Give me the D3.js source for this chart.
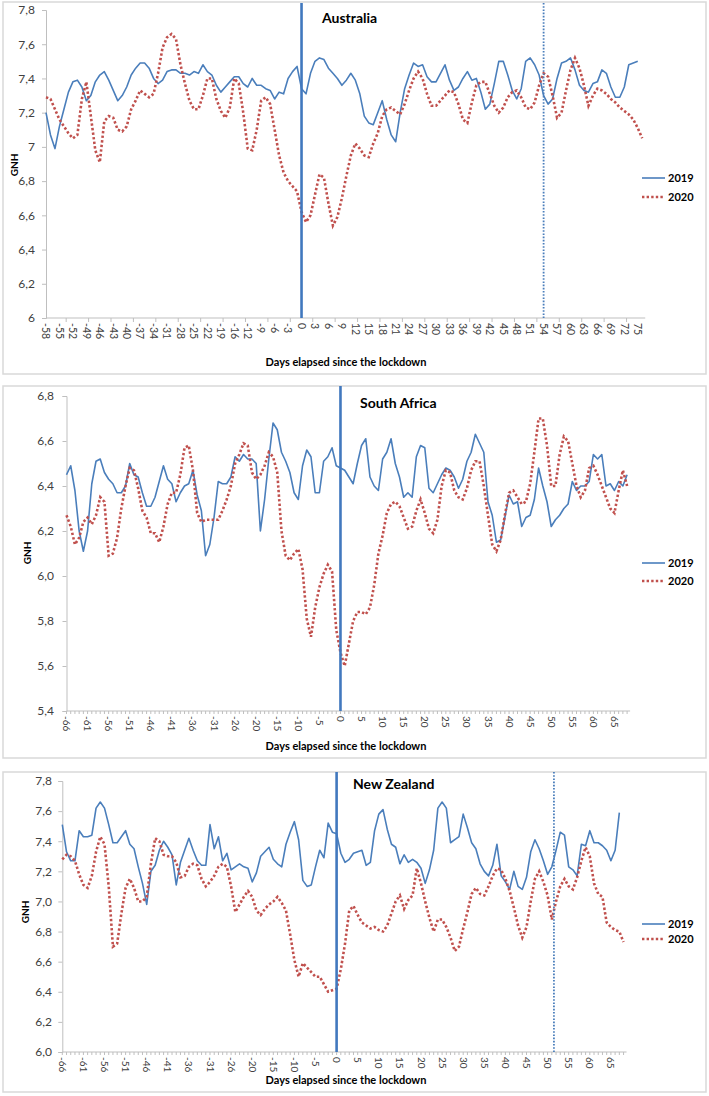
<!DOCTYPE html>
<html><head><meta charset="utf-8">
<script src="https://cdnjs.cloudflare.com/ajax/libs/d3/7.8.5/d3.min.js"></script>
<style>body{margin:0;background:#fff}svg{display:block}text{font-family:Lato,"Open Sans",sans-serif}</style>
</head><body>
<svg id="c" width="709" height="1096"></svg>
<script>
// ---------- DATA ----------
const seriesNames = ["2019", "2020"];
function dayRange(start, end, missing) { const a = []; for (let d = start; d <= end; d++) if (d !== missing) a.push(d); return a; }

// Australia
const auDays = dayRange(-58, 76, -14);
const auTickDays = [-58,-55,-52,-49,-46,-43,-40,-37,-34,-31,-28,-25,-22,-19,-16,-12,-9,-6,-3,0,3,6,9,12,15,18,21,24,27,30,33,36,39,42,45,48,51,54,57,60,63,66,69,72,75];
const au2019 = [7.20,7.07,6.99,7.12,7.22,7.32,7.38,7.39,7.35,7.27,
7.30,7.38,7.42,7.44,7.39,7.33,7.27,7.30,7.35,7.42,
7.46,7.49,7.49,7.46,7.40,7.37,7.39,7.44,7.45,7.45,
7.43,7.43,7.42,7.44,7.43,7.48,7.44,7.42,7.36,7.32,
7.35,7.38,7.41,7.41,7.37,7.35,7.40,7.36,7.36,7.34,
7.33,7.28,7.32,7.31,7.40,7.44,7.47,7.34,7.31,7.43,
7.50,7.52,7.51,7.46,7.43,7.40,7.36,7.39,7.43,7.39,
7.31,7.18,7.14,7.13,7.20,7.27,7.16,7.07,7.03,7.20,
7.34,7.42,7.49,7.47,7.48,7.41,7.38,7.38,7.43,7.48,
7.39,7.33,7.35,7.40,7.44,7.39,7.40,7.32,7.22,7.25,
7.37,7.50,7.50,7.42,7.33,7.28,7.34,7.50,7.52,7.48,
7.42,7.30,7.25,7.28,7.40,7.49,7.50,7.52,7.45,7.36,
7.33,7.32,7.37,7.38,7.45,7.43,7.35,7.29,7.29,7.35,
7.48,7.49,7.50];
const au2020 = [7.29,7.28,7.22,7.16,7.12,7.08,7.05,7.07,7.28,7.38,
7.18,6.98,6.91,7.15,7.18,7.17,7.10,7.09,7.12,7.22,
7.27,7.33,7.31,7.29,7.31,7.43,7.58,7.64,7.66,7.63,
7.48,7.37,7.27,7.22,7.22,7.30,7.40,7.40,7.28,7.21,
7.17,7.23,7.40,7.37,7.20,6.99,6.98,7.10,7.27,7.29,
7.25,7.10,6.95,6.85,6.80,6.77,6.74,6.62,6.56,6.60,
6.72,6.84,6.82,6.67,6.54,6.59,6.70,6.83,6.95,7.02,
6.99,6.95,6.94,7.02,7.08,7.18,7.22,7.23,7.21,7.19,
7.25,7.33,7.40,7.44,7.40,7.31,7.24,7.24,7.27,7.30,
7.33,7.32,7.25,7.16,7.14,7.26,7.36,7.38,7.38,7.31,
7.24,7.20,7.23,7.29,7.32,7.33,7.29,7.23,7.22,7.26,
7.36,7.43,7.41,7.30,7.17,7.20,7.33,7.45,7.52,7.46,
7.36,7.24,7.30,7.34,7.33,7.31,7.28,7.26,7.23,7.21,
7.19,7.16,7.11,7.05];
const auYTicks = [6,6.2,6.4,6.6,6.8,7,7.2,7.4,7.6,7.8];
const auYLabels = ["6","6,2","6,4","6,6","6,8","7","7,2","7,4","7,6","7,8"];
const auMarkerDays = [0, 54];

// South Africa
const saDays = dayRange(-66, 68, -23);
const saTickDays = [-66,-61,-56,-51,-46,-41,-36,-31,-26,-20,-15,-10,-5,0,5,10,15,20,25,30,35,40,45,50,55,60,65];
const sa2019 = [6.45,6.49,6.38,6.20,6.11,6.20,6.41,6.51,6.52,6.46,
6.43,6.41,6.37,6.37,6.40,6.50,6.45,6.44,6.37,6.31,
6.31,6.35,6.42,6.49,6.43,6.41,6.33,6.37,6.40,6.41,
6.47,6.36,6.29,6.09,6.14,6.26,6.42,6.41,6.41,6.44,
6.53,6.51,6.54,6.52,6.52,6.50,6.20,6.34,6.52,6.68,
6.65,6.55,6.51,6.46,6.37,6.34,6.49,6.56,6.53,6.37,
6.37,6.51,6.53,6.57,6.49,6.48,6.47,6.44,6.41,6.50,
6.58,6.61,6.44,6.40,6.38,6.52,6.55,6.61,6.50,6.44,
6.35,6.37,6.35,6.53,6.58,6.57,6.39,6.37,6.41,6.45,
6.48,6.47,6.44,6.39,6.43,6.51,6.55,6.63,6.59,6.55,
6.33,6.27,6.15,6.16,6.26,6.36,6.32,6.33,6.22,6.26,
6.27,6.34,6.48,6.40,6.33,6.22,6.25,6.27,6.30,6.32,
6.42,6.38,6.40,6.40,6.42,6.54,6.52,6.54,6.40,6.41,
6.38,6.42,6.40,6.45];
const sa2020 = [6.27,6.22,6.14,6.17,6.24,6.26,6.23,6.27,6.35,6.33,
6.09,6.10,6.17,6.30,6.40,6.48,6.47,6.39,6.29,6.26,
6.19,6.19,6.15,6.22,6.32,6.37,6.37,6.45,6.57,6.58,
6.47,6.28,6.24,6.25,6.25,6.25,6.25,6.29,6.34,6.40,
6.50,6.54,6.59,6.58,6.46,6.43,6.45,6.49,6.55,6.53,
6.46,6.20,6.09,6.07,6.10,6.12,6.03,5.81,5.73,5.86,
5.95,6.01,6.05,6.02,5.76,5.66,5.60,5.70,5.80,5.84,
5.84,5.83,5.86,5.96,6.10,6.18,6.28,6.32,6.33,6.31,
6.26,6.21,6.22,6.29,6.34,6.28,6.21,6.19,6.25,6.40,
6.47,6.46,6.38,6.35,6.34,6.39,6.47,6.51,6.51,6.40,
6.27,6.14,6.11,6.16,6.27,6.37,6.38,6.35,6.32,6.33,
6.41,6.55,6.70,6.70,6.58,6.40,6.40,6.54,6.62,6.60,
6.50,6.40,6.35,6.38,6.48,6.49,6.45,6.40,6.35,6.30,
6.28,6.38,6.47,6.40];
const saYTicks = [5.4,5.6,5.8,6.0,6.2,6.4,6.6,6.8];
const saYLabels = ["5,4","5,6","5,8","6,0","6,2","6,4","6,6","6,8"];
const saMarkerDays = [0];

// New Zealand
const nzDays = dayRange(-66, 68, -23);
const nzTickDays = [-66,-61,-56,-51,-46,-41,-36,-31,-26,-20,-15,-10,-5,0,5,10,15,20,25,30,35,40,45,50,55,60,65];
const nz2019 = [7.51,7.33,7.27,7.27,7.47,7.43,7.43,7.44,7.62,7.66,
7.62,7.51,7.39,7.39,7.43,7.47,7.38,7.35,7.23,7.12,
6.98,7.20,7.24,7.34,7.40,7.36,7.31,7.11,7.26,7.34,
7.42,7.34,7.27,7.24,7.24,7.51,7.35,7.43,7.27,7.32,
7.21,7.23,7.25,7.23,7.22,7.13,7.19,7.30,7.33,7.36,
7.28,7.25,7.23,7.38,7.46,7.53,7.41,7.14,7.10,7.11,
7.23,7.34,7.29,7.52,7.46,7.45,7.32,7.26,7.28,7.32,
7.33,7.34,7.24,7.26,7.47,7.58,7.61,7.48,7.38,7.36,
7.25,7.31,7.26,7.28,7.26,7.22,7.12,7.21,7.34,7.62,
7.66,7.62,7.39,7.41,7.43,7.58,7.49,7.39,7.35,7.25,
7.20,7.17,7.24,7.38,7.17,7.13,7.08,7.20,7.10,7.08,
7.16,7.33,7.41,7.35,7.27,7.18,7.23,7.34,7.46,7.44,
7.23,7.21,7.17,7.38,7.37,7.47,7.39,7.39,7.37,7.34,
7.27,7.34,7.59];
const nz2020 = [7.28,7.31,7.30,7.27,7.18,7.11,7.09,7.17,7.33,7.43,
7.38,7.10,6.70,6.72,6.92,7.09,7.15,7.09,7.00,7.00,
7.03,7.25,7.42,7.40,7.31,7.30,7.30,7.26,7.16,7.17,
7.23,7.25,7.24,7.15,7.10,7.13,7.17,7.23,7.25,7.23,
7.10,6.93,6.98,7.03,7.07,7.03,6.94,6.91,6.95,6.98,
7.00,7.03,6.99,6.94,6.78,6.61,6.50,6.59,6.56,6.53,
6.50,6.50,6.45,6.40,6.41,6.42,6.55,6.72,6.94,6.97,
6.91,6.86,6.84,6.82,6.83,6.81,6.80,6.84,6.92,7.00,
7.04,6.95,7.01,7.04,7.22,7.12,7.00,6.89,6.80,6.88,
6.88,6.83,6.76,6.67,6.70,6.82,6.93,7.05,7.09,7.05,
7.04,7.10,7.17,7.22,7.21,7.15,7.07,6.96,6.84,6.76,
6.83,7.00,7.15,7.20,7.13,7.04,6.88,7.00,7.10,7.15,
7.10,7.08,7.16,7.27,7.36,7.30,7.12,7.05,7.03,6.86,
6.83,6.81,6.80,6.73];
const nzYTicks = [6.0,6.2,6.4,6.6,6.8,7.0,7.2,7.4,7.6,7.8];
const nzYLabels = ["6,0","6,2","6,4","6,6","6,8","7,0","7,2","7,4","7,6","7,8"];
const nzMarkerDays = [0, 51.5];

// ---------- LAYOUT ----------
const C_BLUE = "#4A7EBB", C_RED = "#C0504D", C_AXIS = "#BFBFBF", C_TXT = "#404040";
const panels = [
  { title: "Australia", days: auDays, tickDays: auTickDays, s: [au2019, au2020], yTicks: auYTicks, yLabels: auYLabels, markers: auMarkerDays,
    box: [3, 2, 703, 372], x0: 46, step: 4.483, yTop: 10, yBot: 318, yDom: [6, 7.8], titleXY: [322, 23], gnhXY: [14, 165], xTitleY: 366,
    legX: 642, legY: [178, 197], lineTop: 3, minor: "five", xFont: 10.5, yLabX: 35 },
  { title: "South Africa", days: saDays, tickDays: saTickDays, s: [sa2019, sa2020], yTicks: saYTicks, yLabels: saYLabels, markers: saMarkerDays,
    box: [3, 386, 703, 372], x0: 66.5, step: 4.215, yTop: 396, yBot: 711, yDom: [5.4, 6.8], titleXY: [360, 408], gnhXY: [27, 553], xTitleY: 750,
    legX: 642, legY: [563, 581], lineTop: 386, minor: "all", xFont: 10, yLabX: 54 },
  { title: "New Zealand", days: nzDays, tickDays: nzTickDays, s: [nz2019, nz2020], yTicks: nzYTicks, yLabels: nzYLabels, markers: nzMarkerDays,
    box: [3, 772, 703, 320], x0: 62.3, step: 4.22, yTop: 781, yBot: 1052, yDom: [6.0, 7.8], titleXY: [353, 789], gnhXY: [25, 912], xTitleY: 1084,
    legX: 642, legY: [924, 939], lineTop: 772, minor: "all", xFont: 10, yLabX: 52 }
];

const svg = d3.select("#c");

panels.forEach(p => {
  const g = svg.append("g");
  const n = p.days.length;
  g.append("rect").attr("x", p.box[0]).attr("y", p.box[1]).attr("width", p.box[2]).attr("height", p.box[3])
    .attr("fill", "#fff").attr("stroke", "#D9D9D9").attr("stroke-width", 1.5);

  const x = d3.scaleLinear().domain([0, n - 1]).range([p.x0, p.x0 + p.step * (n - 1)]);
  const y = d3.scaleLinear().domain(p.yDom).range([p.yBot, p.yTop]);
  const dayPos = d => {
    const i = p.days.indexOf(d);
    if (i >= 0) return x(i);
    const lo = p.days.indexOf(Math.floor(d));
    return x(lo + (d - Math.floor(d)));
  };
  const xEnd = x(n - 1) + 3;

  // y axis
  const yAxis = d3.axisLeft(y).tickValues(p.yTicks).tickSize(4).tickPadding(p.x0 - p.yLabX - 4)
    .tickFormat((d, i) => p.yLabels[i]);
  const ya = g.append("g").attr("transform", `translate(${p.x0},0)`).call(yAxis);
  ya.select(".domain").attr("stroke", C_AXIS);
  ya.selectAll(".tick line").attr("stroke", C_AXIS);
  ya.selectAll(".tick text").attr("fill", C_TXT).style("font-size", "12px").style("font-family", "Lato, sans-serif");

  // x axis line
  g.append("line").attr("x1", p.x0).attr("x2", xEnd).attr("y1", p.yBot).attr("y2", p.yBot).attr("stroke", C_AXIS).attr("stroke-width", 1);
  // minor ticks
  let tickIdx;
  if (p.minor === "all") tickIdx = d3.range(0, n);
  else tickIdx = d3.range(4.5, n, 5);
  g.selectAll(".mt").data(tickIdx).join("line")
    .attr("x1", d => x(d)).attr("x2", d => x(d)).attr("y1", p.yBot).attr("y2", p.yBot + (p.minor === "all" ? 3 : 4))
    .attr("stroke", C_AXIS).attr("stroke-width", 1);
  // x labels
  g.selectAll(".xl").data(p.tickDays).join("text")
    .attr("transform", d => `translate(${dayPos(d) - 0},${p.yBot + 5}) rotate(90)`)
    .attr("dy", "0.35em").attr("text-anchor", "start")
    .attr("fill", C_TXT).style("font-size", p.xFont + "px")
    .text(d => String(d));

  // series
  const line = d3.line().defined(v => v != null).x((v, i) => x(i)).y(v => y(v));
  g.append("path").datum(p.s[0]).attr("d", line).attr("fill", "none").attr("stroke", C_BLUE).attr("stroke-width", 1.6).attr("stroke-linejoin", "round");
  g.append("path").datum(p.s[1]).attr("d", line).attr("fill", "none").attr("stroke", C_RED).attr("stroke-width", 2.6).attr("stroke-dasharray", "2.4 2.2");

  // vertical markers
  p.markers.forEach((d, k) => {
    const xv = dayPos(d);
    g.append("line").attr("x1", xv).attr("x2", xv).attr("y1", p.lineTop).attr("y2", p.yBot)
      .attr("stroke", k === 0 ? "#4178BE" : "#4A7EBB").attr("stroke-width", k === 0 ? 2.6 : 1.8)
      .attr("stroke-dasharray", k === 0 ? null : "1.6 1.6");
  });

  // title
  g.append("text").attr("x", p.titleXY[0]).attr("y", p.titleXY[1]).style("font-size", "14px").style("font-weight", "bold").attr("fill", "#000").text(p.title);
  // y title
  g.append("text").attr("transform", `translate(${p.gnhXY[0]},${p.gnhXY[1]}) rotate(-90)`).attr("text-anchor", "middle").attr("dy", "0.35em")
    .style("font-size", "10px").style("font-weight", "bold").attr("fill", "#000").text("GNH");
  // x title
  g.append("text").attr("x", 346).attr("y", p.xTitleY).attr("text-anchor", "middle").style("font-size", "11px").style("font-weight", "bold").attr("fill", "#000")
    .text("Days elapsed since the lockdown");

  // legend
  seriesNames.forEach((nm, k) => {
    const ly = p.legY[k];
    g.append("line").attr("x1", p.legX).attr("x2", p.legX + 23).attr("y1", ly).attr("y2", ly)
      .attr("stroke", k === 0 ? C_BLUE : C_RED).attr("stroke-width", k === 0 ? 1.6 : 2.6).attr("stroke-dasharray", k === 0 ? null : "2.4 2.2");
    g.append("text").attr("x", p.legX + 26).attr("y", ly).attr("dy", "0.35em").style("font-size", "11px").style("font-weight", "bold").attr("fill", "#000").text(nm);
  });
});
</script>
</body></html>
